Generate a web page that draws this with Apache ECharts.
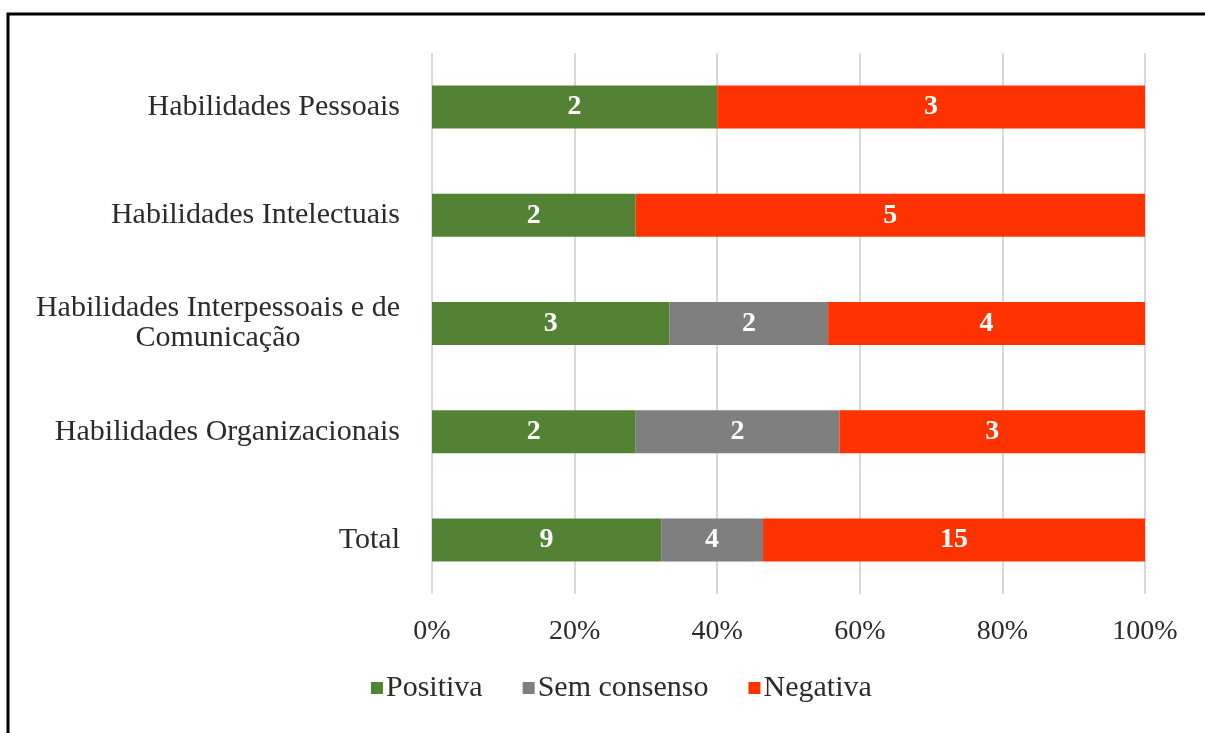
<!DOCTYPE html>
<html>
<head>
<meta charset="utf-8">
<script src="https://cdn.jsdelivr.net/npm/echarts@6/dist/echarts.min.js"></script>
<style>
  html, body { margin: 0; padding: 0; background: #fff; }
  #chart { width: 1205px; height: 733px; }
</style>
</head>
<body>
<div id="chart"></div>
<script>
// Categories, top to bottom
const categories = [
  'Habilidades Pessoais',
  'Habilidades Intelectuais',
  'Habilidades Interpessoais e de\nComunicação',
  'Habilidades Organizacionais',
  'Total'
];
// Counts per category
const positiva = [2, 2, 3, 2, 9];
const semConsenso = [0, 0, 2, 2, 4];
const negativa = [3, 5, 4, 3, 15];
const tickLabels = ['0%', '20%', '40%', '60%', '80%', '100%'];

const totals = categories.map((_, i) => positiva[i] + semConsenso[i] + negativa[i]);
const toShare = arr => arr.map((v, i) => ({ value: v / totals[i] * 100, count: v }));

const FONT = '"Liberation Serif", "Times New Roman", serif';
const TEXT = '#2b2b2b';

function seriesOf(name, arr, color) {
  return {
    name: name,
    type: 'bar',
    stack: 'all',
    barWidth: 43,
    itemStyle: { color: color },
    label: {
      show: true,
      position: 'inside',
      color: '#fff',
      fontFamily: FONT,
      fontWeight: 'bold',
      fontSize: 28,
      formatter: p => (p.data.count > 0 ? String(p.data.count) : '')
    },
    data: toShare(arr)
  };
}

const chart = echarts.init(document.getElementById('chart'), null, { renderer: 'canvas' });
chart.setOption({
  backgroundColor: '#fff',
  animation: false,
  graphic: [{
    type: 'rect',
    shape: { x: 8, y: 14, width: 1210, height: 740 },
    style: { fill: 'none', stroke: '#000', lineWidth: 3 },
    silent: true
  }],
  grid: { left: 432, right: 60, top: 53, bottom: 139 },
  legend: {
    top: 668,
    left: 366,
    itemWidth: 12,
    itemHeight: 12,
    itemGap: 40,
    icon: 'rect',
    textStyle: { fontFamily: FONT, fontSize: 30, color: TEXT, padding: [0, 0, 0, -2] },
    data: ['Positiva', 'Sem consenso', 'Negativa']
  },
  xAxis: {
    type: 'value',
    min: 0,
    max: 100,
    interval: 20,
    axisLine: { show: false },
    axisTick: { show: false },
    splitLine: { show: true, lineStyle: { color: '#d9d9d9', width: 2 } },
    axisLabel: {
      margin: 24,
      fontFamily: FONT,
      fontSize: 28,
      color: TEXT,
      formatter: v => tickLabels[Math.round(v / 20)]
    }
  },
  yAxis: {
    type: 'category',
    inverse: true,
    data: categories,
    axisLine: { show: false },
    axisTick: { show: false },
    axisLabel: {
      margin: 32,
      fontFamily: FONT,
      fontSize: 30,
      color: TEXT,
      lineHeight: 30,
      formatter: v => v.split('\n').map(s => '{c|' + s + '}').join('\n'),
      rich: { c: { align: 'center', fontFamily: FONT, fontSize: 30, color: TEXT, lineHeight: 30 } }
    }
  },
  series: [
    seriesOf('Positiva', positiva, '#548235'),
    seriesOf('Sem consenso', semConsenso, '#7f7f7f'),
    seriesOf('Negativa', negativa, '#ff3300')
  ]
});
</script>
</body>
</html>
